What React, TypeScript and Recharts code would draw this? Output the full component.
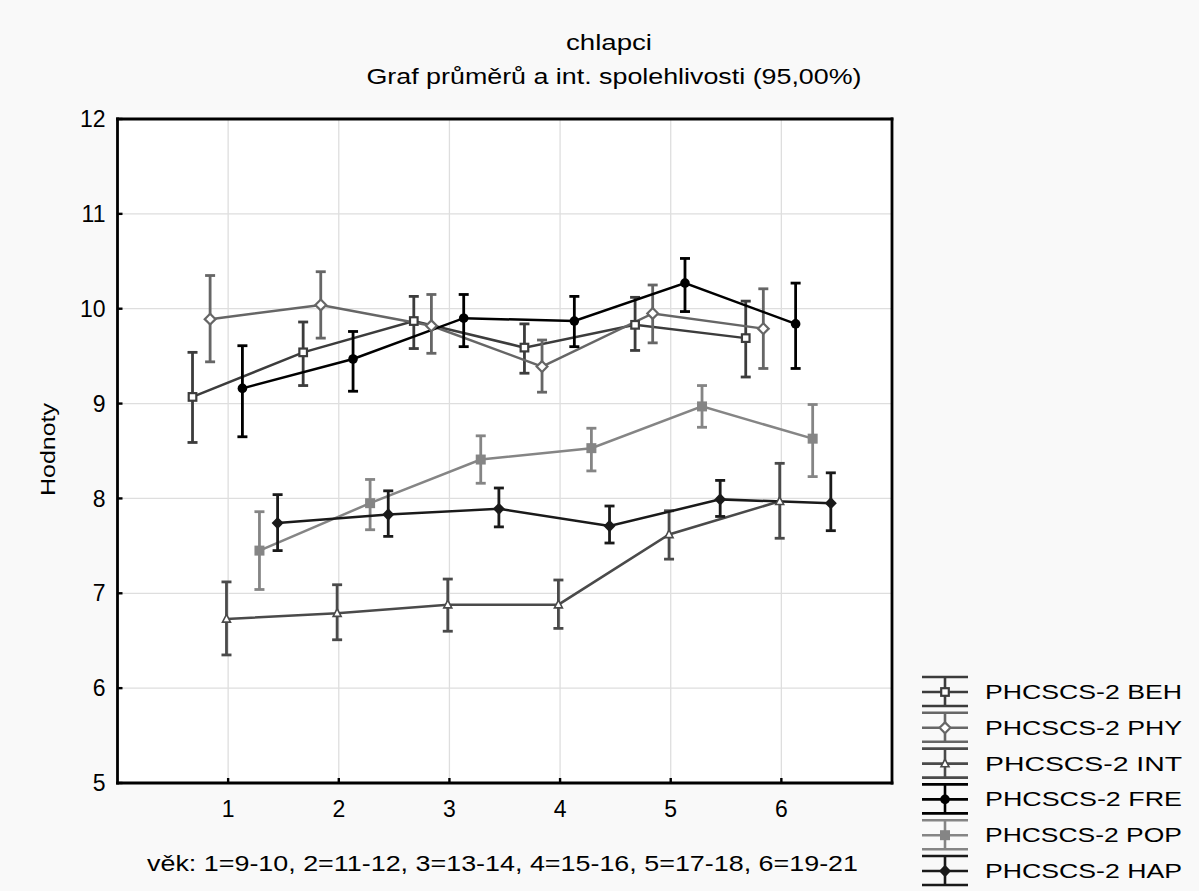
import React from 'react';
import { ComposedChart, Line, XAxis, YAxis, CartesianGrid, ErrorBar } from 'recharts';

// věkové skupiny 1..6
const groups = [1, 2, 3, 4, 5, 6];
const xTicks = [1, 2, 3, 4, 5, 6];
const yTicks = [5, 6, 7, 8, 9, 10, 11, 12];
const rightTicks = [1, 2, 3, 4, 5, 6, 7, 8, 9];

const seriesNames = [
  'PHCSCS-2 BEH',
  'PHCSCS-2 PHY',
  'PHCSCS-2 INT',
  'PHCSCS-2 FRE',
  'PHCSCS-2 POP',
  'PHCSCS-2 HAP',
];

const behMean = [9.07, 9.54, 9.87, 9.59, 9.83, 9.69];
const behLow = [8.59, 9.19, 9.58, 9.32, 9.56, 9.28];
const behHigh = [9.54, 9.86, 10.13, 9.84, 10.12, 10.08];

const phyMean = [9.89, 10.04, 9.82, 9.39, 9.95, 9.79];
const phyLow = [9.44, 9.69, 9.53, 9.12, 9.64, 9.37];
const phyHigh = [10.35, 10.39, 10.15, 9.67, 10.25, 10.21];

const intMean = [6.73, 6.79, 6.88, 6.88, 7.62, 7.97];
const intLow = [6.35, 6.51, 6.6, 6.63, 7.36, 7.58];
const intHigh = [7.12, 7.09, 7.15, 7.14, 7.87, 8.37];

const freMean = [9.16, 9.47, 9.9, 9.87, 10.27, 9.84];
const freLow = [8.65, 9.13, 9.6, 9.6, 9.97, 9.37];
const freHigh = [9.61, 9.76, 10.15, 10.13, 10.53, 10.27];

const popMean = [7.45, 7.95, 8.41, 8.53, 8.97, 8.63];
const popLow = [7.04, 7.67, 8.16, 8.29, 8.75, 8.23];
const popHigh = [7.86, 8.2, 8.66, 8.74, 9.19, 8.99];

const hapMean = [7.74, 7.83, 7.89, 7.71, 7.99, 7.95];
const hapLow = [7.45, 7.6, 7.7, 7.53, 7.81, 7.66];
const hapHigh = [8.04, 8.08, 8.11, 7.92, 8.19, 8.27];

const seriesValues = [
  { mean: behMean, low: behLow, high: behHigh },
  { mean: phyMean, low: phyLow, high: phyHigh },
  { mean: intMean, low: intLow, high: intHigh },
  { mean: freMean, low: freLow, high: freHigh },
  { mean: popMean, low: popLow, high: popHigh },
  { mean: hapMean, low: hapLow, high: hapHigh },
];

// vzhled + posun bodů vedle sebe
const seriesStyle = [
  { color: '#3c3c3c', kind: 'squareOpen', shift: -0.322 },
  { color: '#666666', kind: 'diamondOpen', shift: -0.163 },
  { color: '#4a4a4a', kind: 'triangleOpen', shift: -0.015 },
  { color: '#000000', kind: 'circle', shift: 0.129 },
  { color: '#858585', kind: 'square', shift: 0.283 },
  { color: '#1a1a1a', kind: 'diamond', shift: 0.447 },
];

const FONT = '"Liberation Sans", Arial, sans-serif';

function buildRows(v: { mean: number[]; low: number[]; high: number[] }, shift: number) {
  return groups.map((g, i) => ({
    x: g + shift,
    y: v.mean[i],
    err: [v.mean[i] - v.low[i], v.high[i] - v.mean[i]],
  }));
}

function Marker({ kind, cx, cy, color }: { kind: string; cx: number; cy: number; color: string }) {
  if (cx == null || cy == null) return <g />;
  switch (kind) {
    case 'squareOpen':
      return <rect x={cx - 3.8} y={cy - 3.8} width={7.6} height={7.6} fill="#fff" stroke={color} strokeWidth={2.2} />;
    case 'diamondOpen':
      return (
        <polygon
          points={`${cx},${cy - 5.4} ${cx + 5.4},${cy} ${cx},${cy + 5.4} ${cx - 5.4},${cy}`}
          fill="#fff"
          stroke={color}
          strokeWidth={2.2}
        />
      );
    case 'triangleOpen':
      return (
        <polygon
          points={`${cx},${cy - 4.5} ${cx + 4},${cy + 3.2} ${cx - 4},${cy + 3.2}`}
          fill="#fff"
          stroke={color}
          strokeWidth={1.6}
        />
      );
    case 'circle':
      return <circle cx={cx} cy={cy} r={4.8} fill={color} />;
    case 'square':
      return <rect x={cx - 5} y={cy - 5} width={10} height={10} fill={color} />;
    default:
      return (
        <polygon
          points={`${cx},${cy - 6.2} ${cx + 6},${cy} ${cx},${cy + 6.2} ${cx - 6},${cy}`}
          fill={color}
        />
      );
  }
}

const frame = { stroke: '#000', strokeWidth: 2.8, strokeLinecap: 'square' as const };
const tickLine = { stroke: '#000', strokeWidth: 2.4 };
const tickFont = { fill: '#000', fontSize: 23, fontFamily: FONT };

export default function App() {
  const legendTop = 692;
  const legendStep = 35.8;

  return (
    <div style={{ position: 'absolute', left: 0, top: 0, width: 1199, height: 891, background: '#f9f9f9', fontFamily: FONT }}>
      <ComposedChart width={1199} height={891} margin={{ top: 118, right: 306, bottom: 48, left: 0 }}>
        <CartesianGrid xAxisId="b" yAxisId="l" stroke="#dedede" strokeWidth={1.3} fill="#ffffff" />
        <XAxis
          xAxisId="b"
          dataKey="x"
          type="number"
          domain={[0, 7]}
          ticks={xTicks}
          height={60}
          axisLine={frame}
          tickLine={tickLine}
          tickSize={-5}
          tickMargin={23}
          tick={tickFont}
        />
        <XAxis
          xAxisId="t"
          orientation="top"
          dataKey="x"
          type="number"
          domain={[0, 7]}
          ticks={xTicks}
          height={1}
          axisLine={frame}
          tickLine={tickLine}
          tickSize={-5}
          tick={false}
        />
        <YAxis
          yAxisId="l"
          type="number"
          domain={[5, 12]}
          ticks={yTicks}
          width={117.5}
          axisLine={frame}
          tickLine={tickLine}
          tickSize={-5}
          tickMargin={17}
          tick={tickFont}
        />
        <YAxis
          yAxisId="r"
          orientation="right"
          type="number"
          domain={[0, 10]}
          ticks={rightTicks}
          width={1}
          axisLine={frame}
          tickLine={tickLine}
          tickSize={-5}
          tick={false}
        />
        {seriesStyle.map((s, i) => (
          <Line
            key={seriesNames[i]}
            xAxisId="b"
            yAxisId="l"
            data={buildRows(seriesValues[i], s.shift)}
            dataKey="y"
            name={seriesNames[i]}
            stroke={s.color}
            strokeWidth={2.5}
            type="linear"
            isAnimationActive={false}
            activeDot={false}
            dot={(p: any) => (
              <g key={`dot-${i}-${p.index}`}>
                <Marker kind={s.kind} cx={p.cx} cy={p.cy} color={s.color} />
              </g>
            )}
          >
            <ErrorBar dataKey="err" direction="y" width={5} stroke={s.color} strokeWidth={2.8} isAnimationActive={false} />
          </Line>
        ))}
      </ComposedChart>

      <svg width={1199} height={891} style={{ position: 'absolute', left: 0, top: 0, pointerEvents: 'none' }} fontFamily={FONT}>
        <text x={609} y={50} textAnchor="middle" fontSize={22} textLength={86} lengthAdjust="spacingAndGlyphs">
          chlapci
        </text>
        <text x={614} y={84} textAnchor="middle" fontSize={22} textLength={495} lengthAdjust="spacingAndGlyphs">
          Graf průměrů a int. spolehlivosti (95,00%)
        </text>
        <text
          x={55}
          y={449.5}
          transform="rotate(-90 55 449.5)"
          textAnchor="middle"
          fontSize={21}
          textLength={93}
          lengthAdjust="spacingAndGlyphs"
        >
          Hodnoty
        </text>
        <text x={502.5} y={871} textAnchor="middle" fontSize={22} textLength={711} lengthAdjust="spacingAndGlyphs">
          věk: 1=9-10, 2=11-12, 3=13-14, 4=15-16, 5=17-18, 6=19-21
        </text>

        {seriesNames.map((name, i) => {
          const s = seriesStyle[i];
          const cy = legendTop + i * legendStep;
          return (
            <g key={name}>
              <line x1={922} x2={968} y1={cy - 15} y2={cy - 15} stroke={s.color} strokeWidth={2.6} />
              <line x1={922} x2={968} y1={cy} y2={cy} stroke={s.color} strokeWidth={2.6} />
              <line x1={922} x2={968} y1={cy + 14} y2={cy + 14} stroke={s.color} strokeWidth={2.6} />
              <line x1={945} x2={945} y1={cy - 15} y2={cy + 14} stroke={s.color} strokeWidth={2.6} />
              <Marker kind={s.kind} cx={945} cy={cy} color={s.color} />
              <text x={985} y={cy + 7} fontSize={20} textLength={197} lengthAdjust="spacingAndGlyphs">
                {name}
              </text>
            </g>
          );
        })}
      </svg>
    </div>
  );
}
